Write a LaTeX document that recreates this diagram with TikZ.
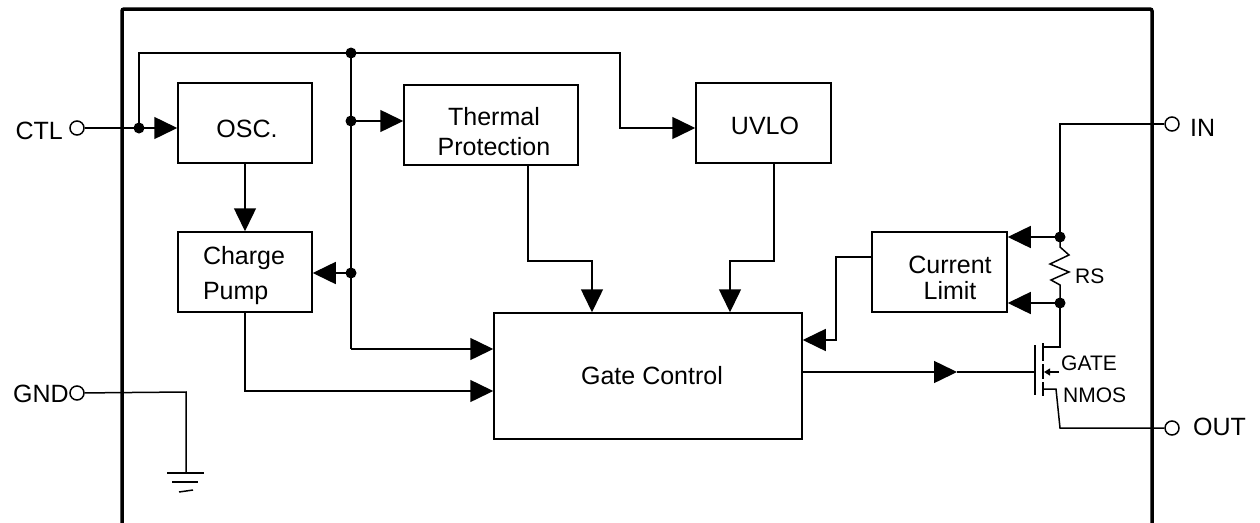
\documentclass[tikz,border=0pt]{standalone}
\usepackage{fontspec}
\setmainfont{Liberation Sans}
\usetikzlibrary{arrows.meta}
\begin{document}
\begin{tikzpicture}[x=1pt,y=-1pt,
  wire/.style={line width=1.5pt},
  arr/.style={wire,-{Triangle[length=23pt,width=22pt]}},
  smallarr/.style={line width=1.2pt,-{Triangle[length=6pt,width=7pt]}},
  blk/.style={draw,line width=1.5pt,inner sep=0pt},
  lbl/.style={inner sep=0pt,align=center,font=\fontsize{25}{30}\selectfont},
  pin/.style={inner sep=0pt,font=\fontsize{25}{30}\selectfont},
  small/.style={inner sep=0pt,font=\fontsize{21}{25}\selectfont},
  term/.style={circle,draw,line width=1.5pt,inner sep=0pt,minimum size=14pt,fill=white},
  dot/.style={circle,fill,inner sep=0pt,minimum size=11pt},
  frame/.style={line width=3.5pt,rounded corners=2pt}
]
\useasboundingbox (0,0) rectangle (1260,522);
\fill[white] (0,0) rectangle (1260,522);

% frame
\draw[frame] (122,540) -- (122,9) -- (1152,9) -- (1152,540);

% blocks
\node[blk,minimum width=134,minimum height=80] (osc) at (245,123) {};
\node[blk,minimum width=174,minimum height=80] (th) at (491,125) {};
\node[blk,minimum width=135,minimum height=80] (uvlo) at (763.5,123) {};
\node[blk,minimum width=134,minimum height=80] (cp) at (245,272) {};
\node[blk,minimum width=308,minimum height=126] (gc) at (648,376) {};
\node[blk,minimum width=135,minimum height=80] (cl) at (939.5,272) {};

% block texts
\node[lbl] (osct) at (247,129) {OSC.};
\node[lbl] (tht) at (494,132) {Thermal\\Protection};
\node[lbl] (uvlot) at (765,126) {UVLO};
\node[lbl,align=left,font=\fontsize{25}{35}\selectfont] (cpt) at (244,275.5) {Charge\\Pump};
\node[lbl] (gct) at (652,376) {Gate Control};
\node[lbl,font=\fontsize{25}{26}\selectfont] (clt) at (950,278) {Current\\Limit};

% coordinates
\coordinate (j1) at (139,128);
\coordinate (j2) at (351,53);
\coordinate (tr) at (620,53);
\coordinate (j3) at (351,121);
\coordinate (j4) at (351,273);
\coordinate (b) at (351,349);
\coordinate (tb) at (528,261);
\coordinate (tb2) at (592,261);
\coordinate (ub) at (774,261);
\coordinate (ub2) at (730,261);
\coordinate (cl1) at (836,257);
\coordinate (cl2) at (836,340);
\coordinate (in1) at (1060,124);
\coordinate (rt) at (1060,237);
\coordinate (rb) at (1060,303);
\coordinate (dr) at (1060,347);
\coordinate (ga) at (957,372);
\coordinate (gp) at (1035,372);
\coordinate (sr) at (1056,389);
\coordinate (so) at (1060,428);
\coordinate (g1) at (186,392);
\coordinate (g2) at (186,473);

% terminals
\node[term] (ctl) at (77,128) {};
\node[term] (gnd) at (77,393) {};
\node[term] (in) at (1172,124) {};
\node[term] (out) at (1172,428) {};

% wires
\draw[wire] (ctl) -- (j1);
\draw[arr] (j1) -- (osc.west |- j1);
\draw[arr] (j1) -- (j1 |- j2) -- (tr) -- (tr |- j1) -- (uvlo.west |- j1);
\draw[wire] (j2) -- (b);
\draw[arr] (b) -- (gc.west |- b);
\draw[arr] (j3) -- (th.west |- j3);
\draw[arr] (j4) -- (cp.east |- j4);
\draw[arr] (osc.south) -- (cp.north);
\draw[arr] (cp.south) |- ([yshift=-15pt]gc.west);
\draw[arr] (th.south -| tb) -- (tb) -- (tb2) -- (gc.north -| tb2);
\draw[arr] (uvlo.south -| ub) -- (ub) -- (ub2) -- (gc.north -| ub2);
\draw[arr] (cl.west |- cl1) -- (cl1) -- (cl2) -- (gc.east |- cl2);
\draw[wire] (in) -- (in1) -- (rt);
\draw[arr] (rt) -- (cl.east |- rt);
\draw[arr] (rb) -- (cl.east |- rb);
% resistor RS
\draw[wire,line join=miter] (rt) -- (1060,247) -- (1069,255) -- (1050,264) -- (1069,272) -- (1051,280) -- (1060,285) -- (rb);
% NMOS
\draw[wire] (rb) -- (dr) -- (1043,347);
\draw[arr] (gc.east |- ga) -- (ga);
\draw[wire] (ga) -- (gp);
\draw[wire] (1035,345) -- (1035,395);
\draw[wire] (1043,343) -- (1043,361);
\draw[wire] (1043,364) -- (1043,379);
\draw[wire] (1043,382) -- (1043,396);
\draw[smallarr] (1059,372) -- (1044,372);
\draw[wire] (1043,389) -- (sr) -- (so) -- (out);
% GND
\draw[wire] (gnd) -- (g1) -- (g2);
\draw[wire] (167,473) -- (204,473);
\draw[wire] (172,482) -- (198,482);
\draw[wire] (179,492) -- (193,490);

% dots
\node[dot] (d1) at (j1) {};
\node[dot] (d2) at (j2) {};
\node[dot] (d3) at (j3) {};
\node[dot] (d4) at (j4) {};
\node[dot] (d5) at (rt) {};
\node[dot] (d6) at (rb) {};

% pin labels
\node[pin,anchor=base east] (ctll) at (63,139) {CTL};
\node[pin,anchor=base east] (gndl) at (69,402) {GND};
\node[pin,anchor=base west] (inl) at (1190,136) {IN};
\node[pin,anchor=base west] (outl) at (1193,435) {OUT};
\node[small,anchor=base west] (rsl) at (1075,283) {RS};
\node[small,anchor=base west] (gatel) at (1061,370) {GATE};
\node[small,anchor=base west] (nmosl) at (1063,402) {NMOS};
\end{tikzpicture}
\end{document}
